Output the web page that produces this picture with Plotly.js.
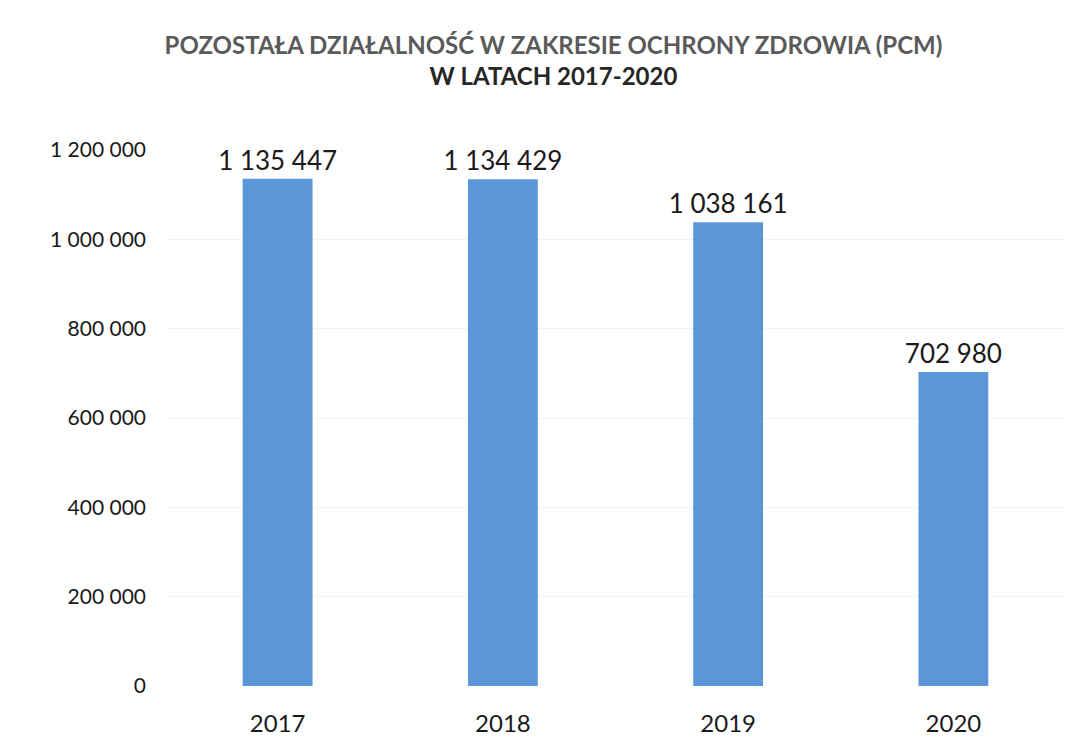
<!DOCTYPE html>
<html>
<head>
<meta charset="utf-8">
<script src="https://cdn.plot.ly/plotly-3.0.1.min.js"></script>
<style>html,body{margin:0;padding:0;background:#fff;}#chart{width:1081px;height:738px;}</style>
</head>
<body>
<div id="chart"></div>
<script>
const years = ["2017", "2018", "2019", "2020"];
const values = [1135447, 1134429, 1038161, 702980];
const yTicks = [0, 200000, 400000, 600000, 800000, 1000000, 1200000];

const trace = {
  type: "bar",
  x: years,
  y: values,
  marker: {color: "#5b97d8"},
  text: values,
  texttemplate: "%{y:,d}",
  textposition: "outside",
  constraintext: "none",
  cliponaxis: false,
  textfont: {family: "Lato, 'Open Sans', sans-serif", size: 26, color: "#1a1a1a"},
  hoverinfo: "none"
};

const layout = {
  width: 1081,
  height: 738,
  separators: ", ",
  paper_bgcolor: "#ffffff",
  plot_bgcolor: "#ffffff",
  margin: {l: 165, r: 15, t: 150, b: 52},
  bargap: 0.69,
  showlegend: false,
  title: {
    text: "<span style='color:#5a5a5a'>POZOSTAŁA DZIAŁALNOŚĆ W ZAKRESIE OCHRONY ZDROWIA (PCM)</span><br><span style='color:#262626'>W LATACH 2017-2020</span>",
    font: {family: "Lato, 'Open Sans', sans-serif", size: 24, weight: "bold"},
    x: 0.512, xanchor: "center",
    y: 0.927, yanchor: "middle"
  },
  xaxis: {
    type: "category",
    tickfont: {family: "Lato, 'Open Sans', sans-serif", size: 24, color: "#1a1a1a"},
    ticklabelstandoff: 21,
    showline: false, showgrid: false, ticks: ""
  },
  yaxis: {
    range: [0, 1200000],
    tickvals: yTicks,
    tickformat: ",d",
    tickfont: {family: "Lato, 'Open Sans', sans-serif", size: 21, color: "#1a1a1a"},
    ticklabelstandoff: 18,
    showgrid: true, gridcolor: "#f3f3f3",
    zeroline: false, showline: false, ticks: ""
  }
};

Plotly.newPlot("chart", [trace], layout, {displayModeBar: false, staticPlot: true});
</script>
</body>
</html>
